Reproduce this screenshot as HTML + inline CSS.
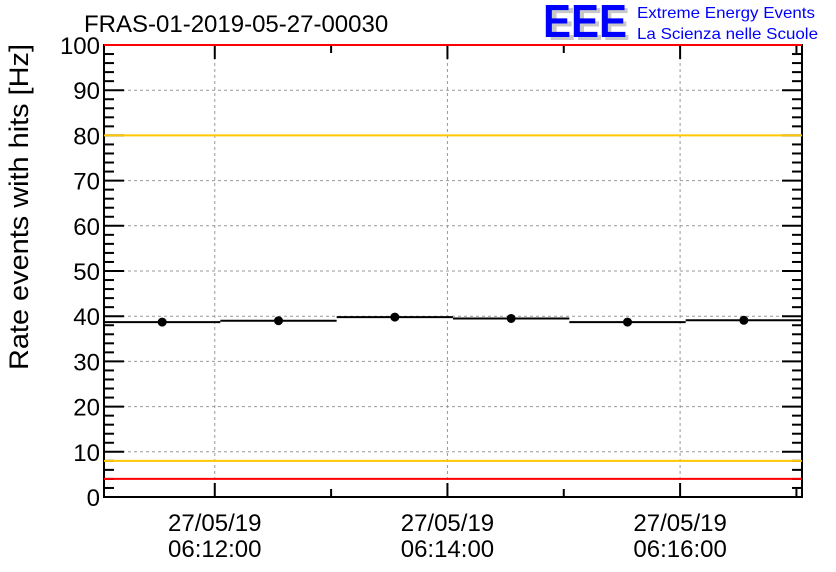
<!DOCTYPE html>
<html><head><meta charset="utf-8"><style>
body{margin:0;background:#fff}
svg{display:block;font-family:"Liberation Sans",sans-serif}
</style></head><body>
<svg id="c" width="836" height="572" viewBox="0 0 836 572">
<text x="84" y="32" font-size="24">FRAS-01-2019-05-27-00030</text>
<g>
<text x="548" y="40" font-size="46" font-weight="bold" fill="#c8c8c8" textLength="82" lengthAdjust="spacingAndGlyphs">EEE</text>
<text x="543" y="37" font-size="46" font-weight="bold" fill="#0000ff" textLength="84" lengthAdjust="spacingAndGlyphs">EEE</text>
<text x="637" y="18" font-size="16" fill="#0000ff" textLength="178" lengthAdjust="spacingAndGlyphs">Extreme Energy Events</text>
<text x="637" y="39" font-size="16" fill="#0000ff" textLength="181" lengthAdjust="spacingAndGlyphs">La Scienza nelle Scuole</text>
</g>
<text transform="translate(28,207) rotate(-90)" text-anchor="middle" font-size="27" textLength="326" lengthAdjust="spacingAndGlyphs">Rate events with hits [Hz]</text>
<g id="grid"></g><g id="axes"></g><g id="marks"></g>
</svg>
<script>
const yTicks=[0,10,20,30,40,50,60,70,80,90,100];
const xTickLabels=["27/05/19|06:12:00","27/05/19|06:14:00","27/05/19|06:16:00"];
const xTickMinutes=[1,3,5];
const rates=[38.7,39.0,39.8,39.5,38.7,39.1];
const redLimits=[4,100];
const orangeLimits=[8,80];
const L=104,R=802,T=45,B=497,NS="http://www.w3.org/2000/svg";
const nb=rates.length, bw=(R-L)/nb;
const y=v=>B-(v/100)*(B-T);
const xm=m=>L+(m-0.065)*bw+2;
function el(p,t,a){const e=document.createElementNS(NS,t);for(const k in a)e.setAttribute(k,a[k]);p.appendChild(e);return e;}
const G=document.getElementById('grid'),A=document.getElementById('axes'),M=document.getElementById('marks');
yTicks.forEach(v=>{
 const l=el(G,'line',{x1:L,x2:R,y1:y(v),y2:y(v),stroke:'#999','stroke-dasharray':'3,3'});
 
});
xTickMinutes.forEach(m=>{
 const l=el(G,'line',{x1:xm(m),x2:xm(m),y1:T,y2:B,stroke:'#999','stroke-dasharray':'3,3'});
 
});
const fr=el(A,'rect',{x:L,y:T,width:R-L,height:B-T,fill:'none',stroke:'#000','stroke-width':2});

for(let v=0;v<=100;v+=2){const big=v%10===0,len=big?20:10;
 el(A,'line',{x1:L,x2:L+len,y1:y(v),y2:y(v),stroke:'#000','stroke-width':2});
 el(A,'line',{x1:R,x2:R-len,y1:y(v),y2:y(v),stroke:'#000','stroke-width':2});}
for(let m=0;m<=6;m++){const px=xm(m);if(px<L||px>R)continue;const big=m%2===1,len=big?14:8;
 el(A,'line',{x1:px,x2:px,y1:B,y2:B-len,stroke:'#000','stroke-width':2});
 el(A,'line',{x1:px,x2:px,y1:T,y2:T+len,stroke:'#000','stroke-width':2});}
yTicks.forEach(v=>{const t=el(A,'text',{x:100,y:y(v)+9,'text-anchor':'end','font-size':24});t.textContent=v;
 });
xTickLabels.forEach((s,i)=>{const [a,b]=s.split('|');const px=xm(xTickMinutes[i]);
 const t1=el(A,'text',{x:px,y:531,'text-anchor':'middle','font-size':24});t1.textContent=a;
 
 const t2=el(A,'text',{x:px,y:557,'text-anchor':'middle','font-size':24});t2.textContent=b;
 });
orangeLimits.forEach(v=>{const l=el(M,'line',{x1:L,x2:R,y1:y(v),y2:y(v),stroke:'#ffc800','stroke-width':2});
 });
redLimits.forEach(v=>{const l=el(M,'line',{x1:L,x2:R,y1:y(v),y2:y(v),stroke:'#ff0000','stroke-width':2});
 });
rates.forEach((v,i)=>{const x0=L+i*bw;
 const l=el(M,'line',{x1:x0,x2:x0+bw,y1:y(v),y2:y(v),stroke:'#000','stroke-width':2});
 
 const c=el(M,'circle',{cx:x0+bw/2,cy:y(v),r:4.5,fill:'#000'});
 });
</script>
</body></html>
